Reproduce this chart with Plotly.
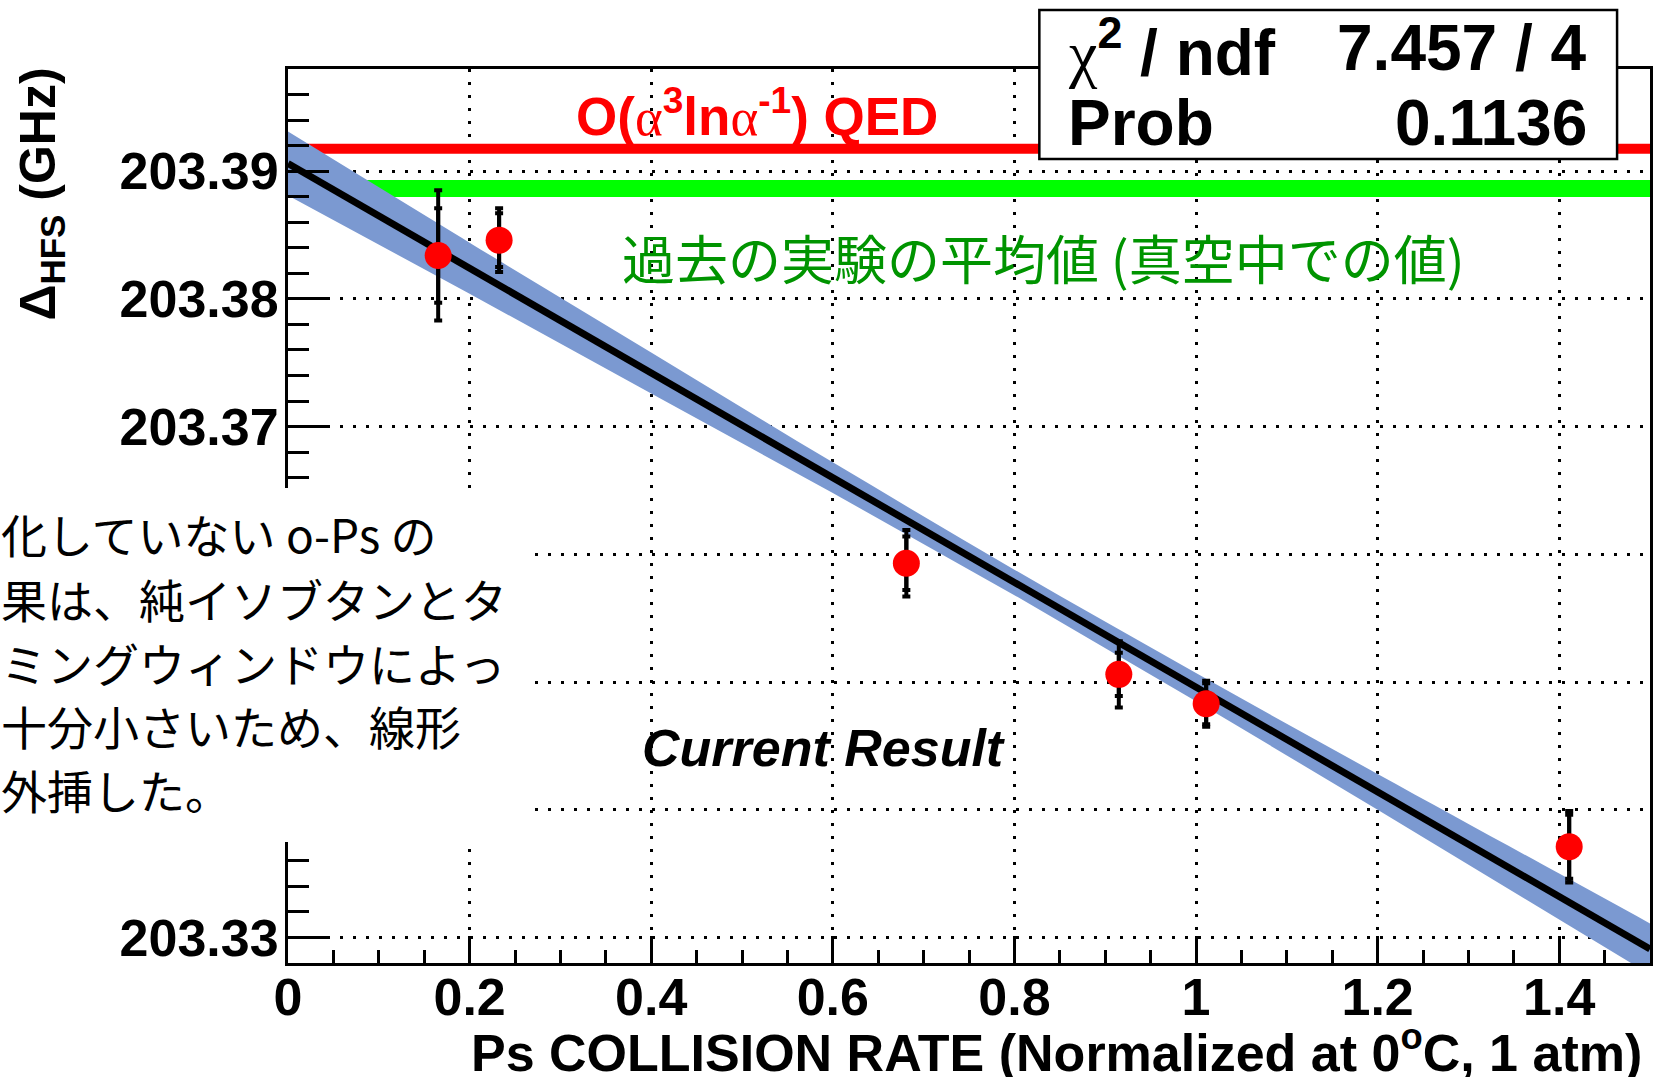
import plotly.graph_objects as go

# ---------------- data ----------------
rate = [0.1654, 0.2325, 0.681, 0.915, 1.0112, 1.411]
dhfs = [203.3834, 203.3846, 203.3593, 203.3506, 203.3483, 203.3371]
err_total = [0.0051, 0.0025, 0.0026, 0.0026, 0.0018, 0.0028]
err_stat = [0.0037, 0.0021, 0.0021, 0.0017, 0.0016, 0.0025]

fit_x = [0.0, 1.5]
fit_y = [203.3906, 203.3291]

band_x = [0.0, 0.2, 0.4, 0.6, 0.8, 1.0, 1.2, 1.4, 1.5]
band_hi = [203.3931, 203.3844, 203.3758, 203.3672, 203.3588, 203.3507, 203.3428, 203.3350, 203.3311]
band_lo = [203.3881, 203.3804, 203.3726, 203.3648, 203.3568, 203.3485, 203.3400, 203.3314, 203.3271]

qed_value = 203.39175
exp_average = 203.38865
x_span = [0.0, 1.5]

y_tickvals = [203.33, 203.34, 203.35, 203.36, 203.37, 203.38, 203.39]
y_ticktext = ["203.33", "", "", "", "203.37", "203.38", "203.39"]

stats_labels = ["<span style='font-family:Liberation Serif;font-weight:normal'>χ</span><sup>2</sup> / ndf", "Prob"]
stats_values = ["7.457 / 4", "0.1136"]

jp_lines = [
    "化していない o-Ps の",
    "果は、純イソブタンとタ",
    "ミングウィンドウによっ",
    "十分小さいため、線形",
    "外挿した。",
]

# ---------------- layout geometry ----------------
W, H = 1663, 1077
ML, MR, MT, MB = 288, 10, 69, 114
PW = W - ML - MR
PH = H - MT - MB


def px(x):
    return (x - ML) / PW


def py(y):
    return (H - MB - y) / PH


SANS = "Liberation Sans"
CJK = "Noto Sans CJK JP"

fig = go.Figure()

# reference lines
fig.add_trace(go.Scatter(x=x_span, y=[qed_value, qed_value], mode="lines",
                         line=dict(color="#ff0000", width=10), hoverinfo="skip"))
fig.add_trace(go.Scatter(x=x_span, y=[exp_average, exp_average], mode="lines",
                         line=dict(color="#00ff00", width=17), hoverinfo="skip"))

# fit confidence band
fig.add_trace(go.Scatter(x=band_x, y=band_lo, mode="lines",
                         line=dict(color="rgba(0,0,0,0)", width=0), hoverinfo="skip"))
fig.add_trace(go.Scatter(x=band_x, y=band_hi, mode="lines", fill="tonexty",
                         fillcolor="#7b99d1", line=dict(color="rgba(0,0,0,0)", width=0),
                         line_shape="spline", hoverinfo="skip"))

# fit line
fig.add_trace(go.Scatter(x=fit_x, y=fit_y, mode="lines",
                         line=dict(color="black", width=7), hoverinfo="skip"))

# inner (statistical) error bars
fig.add_trace(go.Scatter(x=rate, y=dhfs, mode="markers",
                         marker=dict(size=1, color="rgba(0,0,0,0)"),
                         error_y=dict(type="data", array=err_stat, color="black",
                                      thickness=4, width=4)))
# points with total error bars
fig.add_trace(go.Scatter(x=rate, y=dhfs, mode="markers",
                         marker=dict(size=27, color="#ff0000", line=dict(width=0)),
                         error_y=dict(type="data", array=err_total, color="black",
                                      thickness=4, width=4)))

axis_common = dict(showline=True, linewidth=3, linecolor="black", mirror=True,
                   ticks="inside", tickcolor="black", tickwidth=2.5,
                   showgrid=True, gridcolor="black", gridwidth=2.5, griddash="3px,10px",
                   zeroline=False,
                   tickfont=dict(family=SANS, size=52, color="black", weight="bold"))

fig.update_layout(
    width=W, height=H,
    margin=dict(l=ML, r=MR, t=MT, b=MB),
    paper_bgcolor="white", plot_bgcolor="white",
    showlegend=False,
    xaxis=dict(range=[0, 1.5], tickmode="linear", tick0=0, dtick=0.2, ticklen=27,
               ticklabelstandoff=-13,
               minor=dict(tickmode="linear", tick0=0, dtick=0.05, ticks="inside", ticklen=13.5,
                          tickwidth=2.5, tickcolor="black", showgrid=False),
               **axis_common),
    yaxis=dict(range=[203.328, 203.398], tickmode="array", tickvals=y_tickvals,
               ticktext=y_ticktext, ticklen=41, ticklabelstandoff=-4,
               minor=dict(tickmode="linear", tick0=203.33, dtick=0.002, ticks="inside", ticklen=21,
                          tickwidth=2.5, tickcolor="black", showgrid=False),
               **axis_common),
)

shapes = [
    # white box of the overlapping Japanese text
    dict(type="rect", xref="paper", yref="paper", x0=px(0), x1=px(531), y0=py(842), y1=py(488),
         fillcolor="white", line=dict(width=0), layer="above"),
    # stats box
    dict(type="rect", xref="paper", yref="paper", x0=px(1041), x1=px(1620), y0=py(159), y1=py(10),
         fillcolor="white", line=dict(color="black", width=2.5), layer="above"),
]
fig.update_layout(shapes=shapes)

ann = []
# stats text
row_y = [48, 123]
for lab, val, ry in zip(stats_labels, stats_values, row_y):
    ann.append(dict(x=px(1068), y=py(ry), xref="paper", yref="paper", xanchor="left", yanchor="middle",
                    text=lab, showarrow=False,
                    font=dict(family=SANS, size=64, color="black", weight="bold")))
    ann.append(dict(x=px(1592), y=py(ry), xref="paper", yref="paper", xanchor="right", yanchor="middle",
                    text=val, showarrow=False,
                    font=dict(family=SANS, size=64, color="black", weight="bold")))

# QED label
ann.append(dict(x=px(758), y=py(113), xref="paper", yref="paper", xanchor="center", yanchor="middle",
                text="O(<span style='font-family:Liberation Serif;font-weight:normal'>α</span><sup>3</sup>ln"
                     "<span style='font-family:Liberation Serif;font-weight:normal'>α</span><sup>-1</sup>) QED",
                showarrow=False, font=dict(family=SANS, size=53, color="#ff0000", weight="bold")))

# previous experiments label
ann.append(dict(x=px(1045), y=py(257), xref="paper", yref="paper", xanchor="center", yanchor="middle",
                text="過去の実験の平均値 (真空中での値)", showarrow=False,
                font=dict(family=CJK, size=53, color="#009400")))

# Current Result
ann.append(dict(x=px(825), y=py(748), xref="paper", yref="paper", xanchor="center", yanchor="middle",
                text="<i>Current Result</i>", showarrow=False,
                font=dict(family=SANS, size=52, color="black", weight="bold")))

# Japanese explanatory text
line_y = [533, 598, 662, 725, 789]
for t, ly in zip(jp_lines, line_y):
    ann.append(dict(x=px(-2), y=py(ly), xref="paper", yref="paper", xanchor="left", yanchor="middle",
                    text=t, showarrow=False, font=dict(family=CJK, size=46, color="black")))

# axis titles
ann.append(dict(x=px(1647), y=py(1049), xref="paper", yref="paper", xanchor="right", yanchor="middle",
                text="Ps COLLISION RATE (Normalized at 0<sup>o</sup>C, 1 atm)", showarrow=False,
                font=dict(family=SANS, size=52, color="black", weight="bold")))
ann.append(dict(x=px(40), y=py(194), xref="paper", yref="paper", xanchor="center", yanchor="middle",
                text="Δ<sub>HFS</sub> (GHz)", textangle=-90, showarrow=False,
                font=dict(family=SANS, size=50, color="black", weight="bold")))

fig.update_layout(annotations=ann)

fig.write_html("out.html")
